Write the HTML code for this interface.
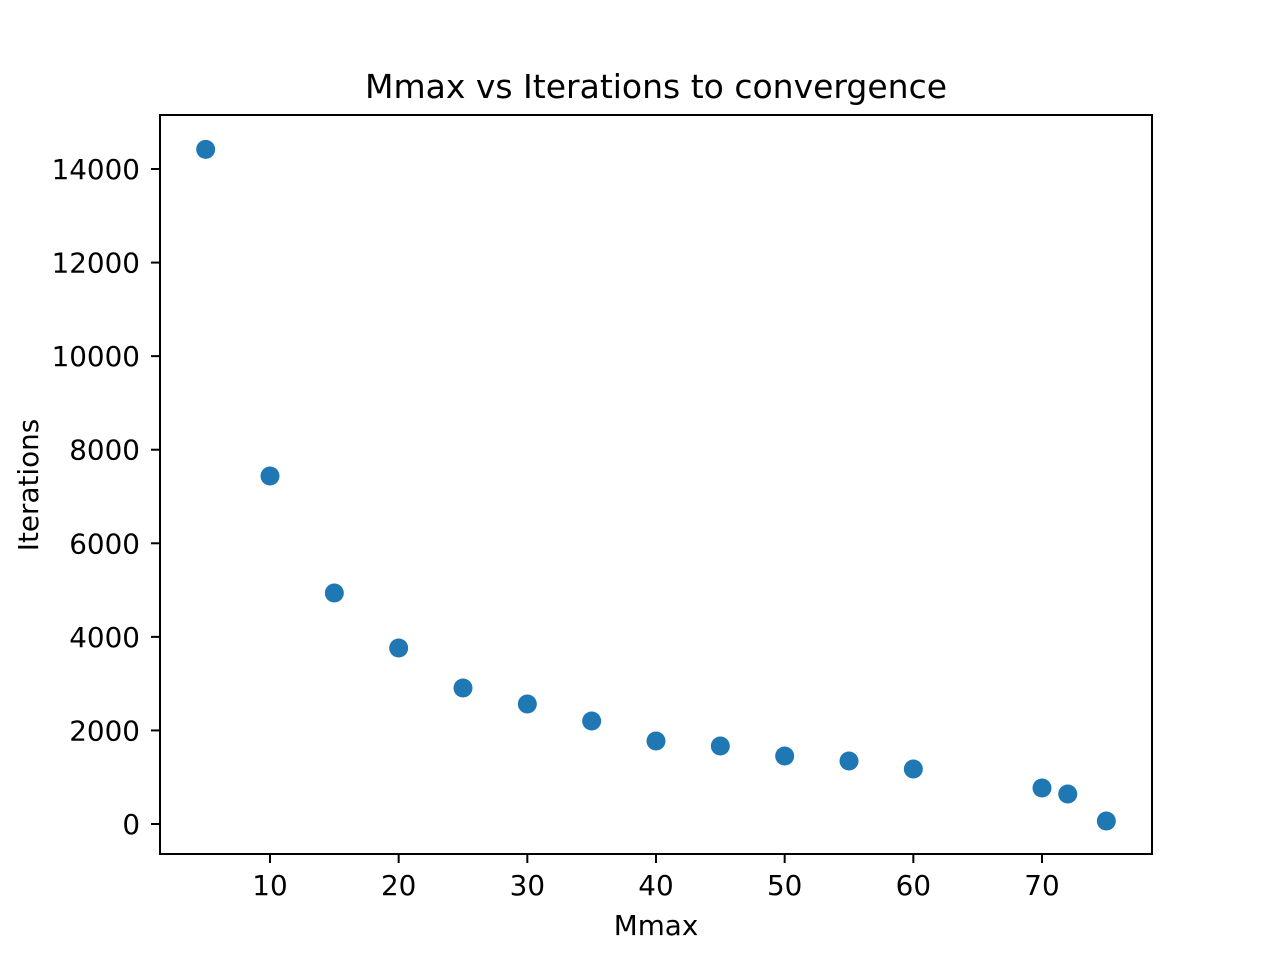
<!DOCTYPE html>
<html><head><meta charset="utf-8"><style>
html,body{margin:0;padding:0;background:#fff}
svg{display:block}
text{font-family:"DejaVu Sans","Liberation Sans",sans-serif;fill:#000}
</style></head><body>
<svg width="1280" height="960" viewBox="0 0 1280 960">
<rect width="1280" height="960" fill="#fff"/>
<g id="plot"></g>
<rect x="160" y="115" width="992" height="739" fill="none" stroke="#000" stroke-width="2"/>
<text x="656" y="98" font-size="33" text-anchor="middle">Mmax vs Iterations to convergence</text>
<text x="656" y="935" font-size="27.8" text-anchor="middle">Mmax</text>
<text transform="translate(38,485) rotate(-90)" font-size="27.8" text-anchor="middle">Iterations</text>
</svg>
<script>
const mmax = [5,10,15,20,25,30,35,40,45,50,55,60,70,72,75];
const iterations = [14420,7438,4937,3762,2907,2565,2202,1774,1667,1453,1347,1176,769,641,64];
const xTicks = [10,20,30,40,50,60,70];
const yTicks = [0,2000,4000,6000,8000,10000,12000,14000];
const NS = 'http://www.w3.org/2000/svg';
const xScale = v => 141.33 + v * 12.8667;
const yScale = v => 824 - v * (655 / 14000);
const g = document.getElementById('plot');
function mk(tag, attrs){const e=document.createElementNS(NS,tag);for(const k in attrs)e.setAttribute(k,attrs[k]);g.appendChild(e);return e;}
xTicks.forEach(t=>{
  const x=xScale(t);
  const l=mk('line',{x1:x,x2:x,y1:854,y2:863,stroke:'#000','stroke-width':2});
  
  
  const tx=mk('text',{x:x,y:895,'font-size':27.8,'text-anchor':'middle'});
  tx.textContent=t;
  
  
});
yTicks.forEach(t=>{
  const y=yScale(t);
  const l=mk('line',{x1:151,x2:160,y1:y,y2:y,stroke:'#000','stroke-width':2});
  
  
  const tx=mk('text',{x:140,y:y+10,'font-size':27.8,'text-anchor':'end'});
  tx.textContent=t;
  
  
});
mmax.forEach((m,i)=>{
  const c=mk('circle',{cx:xScale(m),cy:yScale(iterations[i]),r:9.5,fill:'#1f77b4'});
  
  
});
</script>
</body></html>
